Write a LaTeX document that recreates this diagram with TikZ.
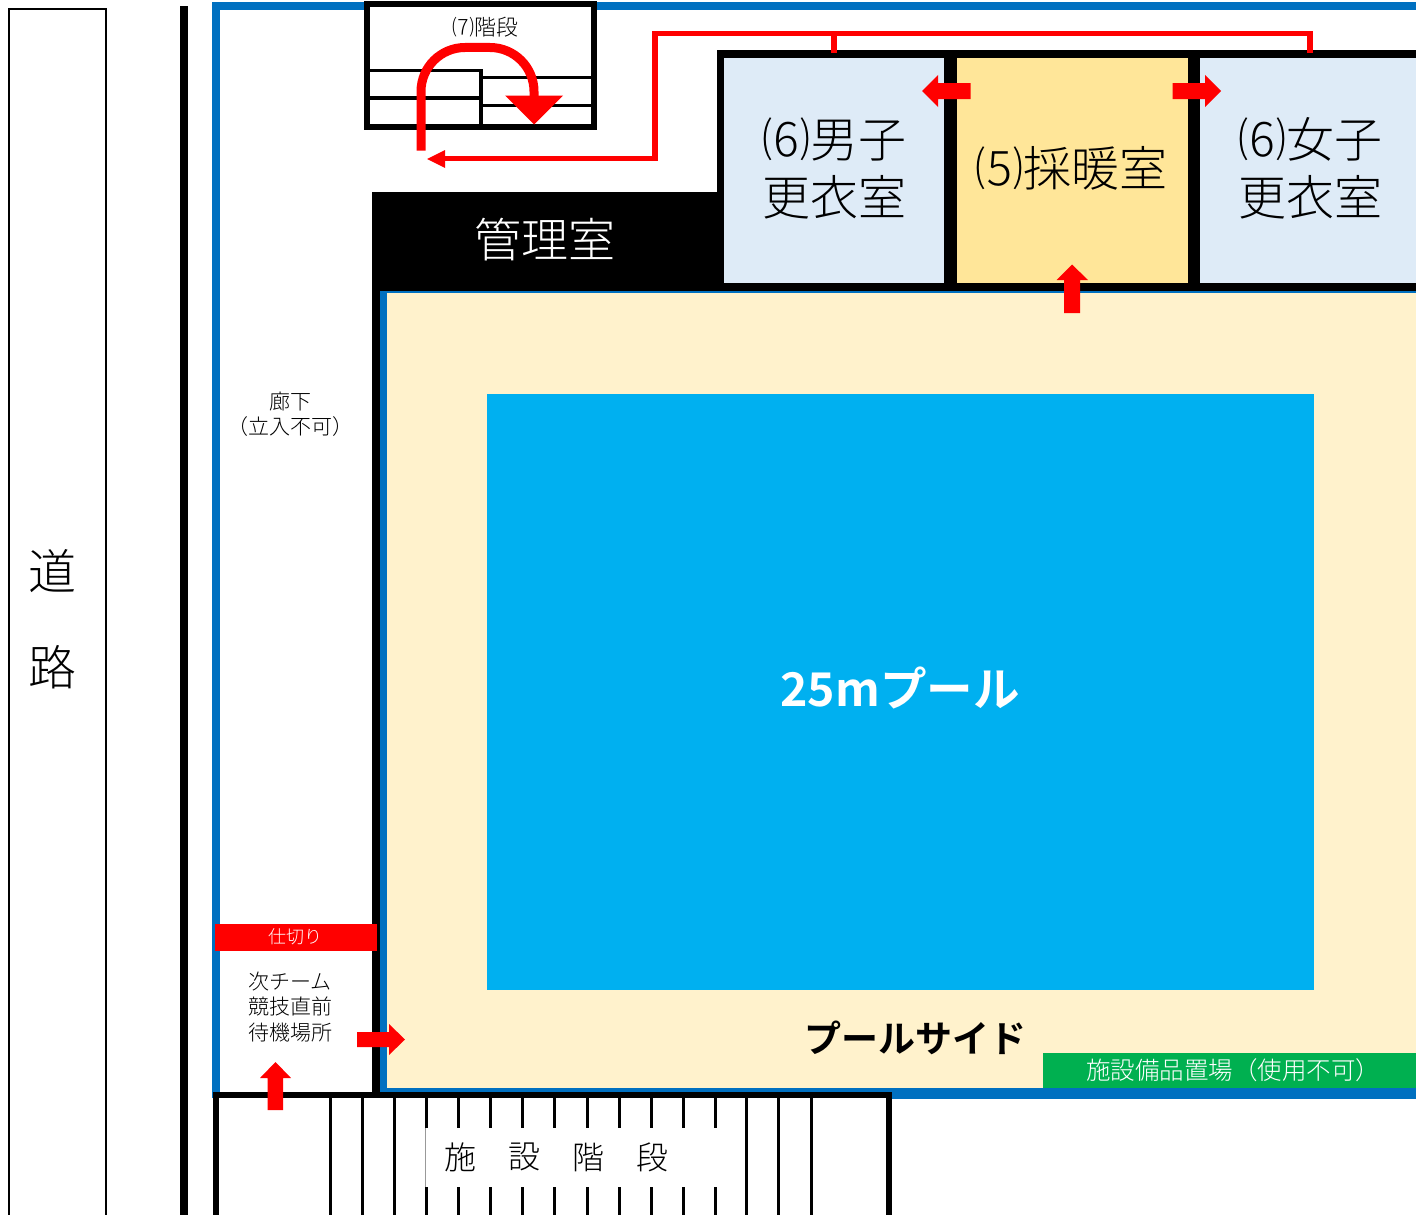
\documentclass[tikz,border=0pt]{standalone}
\usepackage{fontspec}
\setmainfont{Noto Sans CJK JP}[UprightFont=* Light,BoldFont=* Bold]
\usetikzlibrary{arrows.meta}
\definecolor{wallblue}{HTML}{0070C0}
\definecolor{poolblue}{HTML}{00B0F0}
\definecolor{deck}{HTML}{FFF2CC}
\definecolor{roomblue}{HTML}{DEEBF7}
\definecolor{roomwarm}{HTML}{FFE699}
\definecolor{storegreen}{HTML}{00B050}
\newcommand\fsz[2]{\fontsize{#1}{#2}\selectfont}
\tikzset{
  lbl/.style={inner sep=0pt,outer sep=0pt,align=center,text=black},
  redblock/.style={fill=red,draw=none},
  route/.style={draw=red,line width=5.5pt,line join=miter},
  stepline/.style={draw=black,line width=3pt},
  wall/.style={fill=black,draw=none},
}
\begin{document}
\begin{tikzpicture}[x=1pt,y=-1pt]
\useasboundingbox (0,0) rectangle (1416,1215);
\clip (0,0) rectangle (1416,1215);
\fill[white] (0,0) rectangle (1416,1215);
% road
\draw[black,line width=1.5pt] (9,1225) -- (9,9) -- (106,9) -- (106,1225);
\node[lbl,font=\fsz{48}{96}] (road) at (52,619) {道\\路};
\fill[wall] (180,6) rectangle (188,1215);
% outer blue
\fill[wallblue] (212,2) rectangle (1416,10);
\fill[wallblue] (212,2) rectangle (220,1098);
% pool deck
\fill[wallblue] (380,291) rectangle (1416,1098.5);
\fill[deck] (387,293) rectangle (1416,1088);
\node[fill=poolblue,minimum width=827.5pt,minimum height=596.5pt,inner sep=0pt] (pool) at (900.5,692) {};
\node[inner sep=0pt,font=\fsz{46.5}{56}\bfseries,text=white] (pooltext) at (900,688) {25mプール};
\node[inner sep=0pt,font=\fsz{37}{44}\bfseries,text=black] (side) at (915,1038) {プールサイド};
\node[fill=storegreen,minimum width=373pt,minimum height=35pt,inner sep=0pt] (store) at (1229.5,1070.5) {};
\node[inner sep=0pt,font=\fsz{24.5}{28},text=white] (storetext) at (1233,1070) {施設備品置場（使用不可）};
% walls
\fill[wall] (372,192) rectangle (380,1092);
\fill[wall] (372,192) rectangle (724,291);
\fill[wall] (717,50) rectangle (1416,291);
\node[inner sep=0pt,font=\fsz{47}{54},text=white] (office) at (545,240) {管理室};
% rooms
\fill[roomblue] (724,58) rectangle (944,283);
\fill[roomwarm] (957,58) rectangle (1188,283);
\fill[roomblue] (1200,58) rectangle (1416,283);
\node[lbl,font=\fsz{48}{58}] (men) at (834,168) {⑹男子\\更衣室};
\node[lbl,font=\fsz{48}{58}] (warm) at (1071,168) {⑸採暖室};
\node[lbl,font=\fsz{48}{58}] (women) at (1310,168) {⑹女子\\更衣室};
% top stairs
\fill[white] (367,4) rectangle (594,126.5);
\draw[black,line width=6pt] (367,4) rectangle (594,126.5);
\draw[black,line width=3.5pt] (370,70.5) -- (481,70.5) -- (481,124);
\draw[black,line width=3.5pt] (481,77.5) -- (591,77.5);
\draw[black,line width=3.5pt] (370,98) -- (481,98);
\draw[black,line width=3.5pt] (481,105.5) -- (591,105.5);
\node[lbl,font=\fsz{22}{26}] (stairlabel) at (485,27) {⑺階段};
% stair arrow
\draw[red,line width=9pt,rounded corners=44pt] (421,150.5) -- (421,47.5) -- (534,47.5) -- (534,100);
\fill[redblock] (505,95.5) -- (563,95.5) -- (534,124.5) -- cycle;
% route
\coordinate (rm) at (834,53);
\coordinate (rw) at (1310,53);
\coordinate (stairend) at (427,159);
\draw[route] (rm) |- (655,33.5) |- (445,158.5);
\draw[route] (rw) |- (834,33.5);
\fill[redblock] (427,159) -- (445,150) -- (445,168) -- cycle;
% bottom stairs
\fill[white] (216,1095) rectangle (888,1225);
\foreach \sx in {330,362,394,426,458,490.5,522.5,554.5,587,619,651,683,715,746.5,778.5,811}
  \draw[stepline] (\sx,1095) -- (\sx,1225);
\fill[white] (425,1128) rectangle (745,1187);
\draw[black!40,line width=.7pt] (425,1128) -- (425,1187);
\draw[black,line width=3pt] (746.5,1120) -- (746.5,1195);
\draw[black,line width=6pt] (216,1225) -- (216,1095) -- (888.5,1095) -- (888.5,1225);
\node[lbl,font=\fsz{32}{36}] (s1) at (460,1157) {施};
\node[lbl,font=\fsz{32}{36}] (s2) at (524,1157) {設};
\node[lbl,font=\fsz{32}{36}] (s3) at (588,1157) {階};
\node[lbl,font=\fsz{32}{36}] (s4) at (652,1157) {段};
% corridor
\node[lbl,font=\fsz{21}{25.5}] (hall) at (290,414) {廊下\\（立入不可）};
\node[fill=red,minimum width=162pt,minimum height=27pt,inner sep=0pt] (part) at (296,937.5) {};
\node[inner sep=0pt,font=\fsz{18}{22},text=white] (parttext) at (295,937) {仕切り};
\node[lbl,font=\fsz{21}{25.5}] (wait) at (290,1007) {次チーム\\競技直前\\待機場所};
% block arrows
\fill[redblock] (1064,313) -- (1064,280) -- (1056.5,280) -- (1072,264.5) -- (1088,280) -- (1080,280) -- (1080,313) -- cycle;
\fill[redblock] (970.5,83) -- (938,83) -- (938,75) -- (922,91) -- (938,107) -- (938,99) -- (970.5,99) -- cycle;
\fill[redblock] (1172.5,83) -- (1205,83) -- (1205,75) -- (1221,91) -- (1205,107) -- (1205,99) -- (1172.5,99) -- cycle;
\fill[redblock] (357,1032) -- (389,1032) -- (389,1024) -- (405,1039.5) -- (389,1055) -- (389,1047) -- (357,1047) -- cycle;
\fill[redblock] (267.5,1110) -- (267.5,1078) -- (260,1078) -- (275.5,1062) -- (291,1078) -- (283,1078) -- (283,1110) -- cycle;
\end{tikzpicture}
\end{document}
